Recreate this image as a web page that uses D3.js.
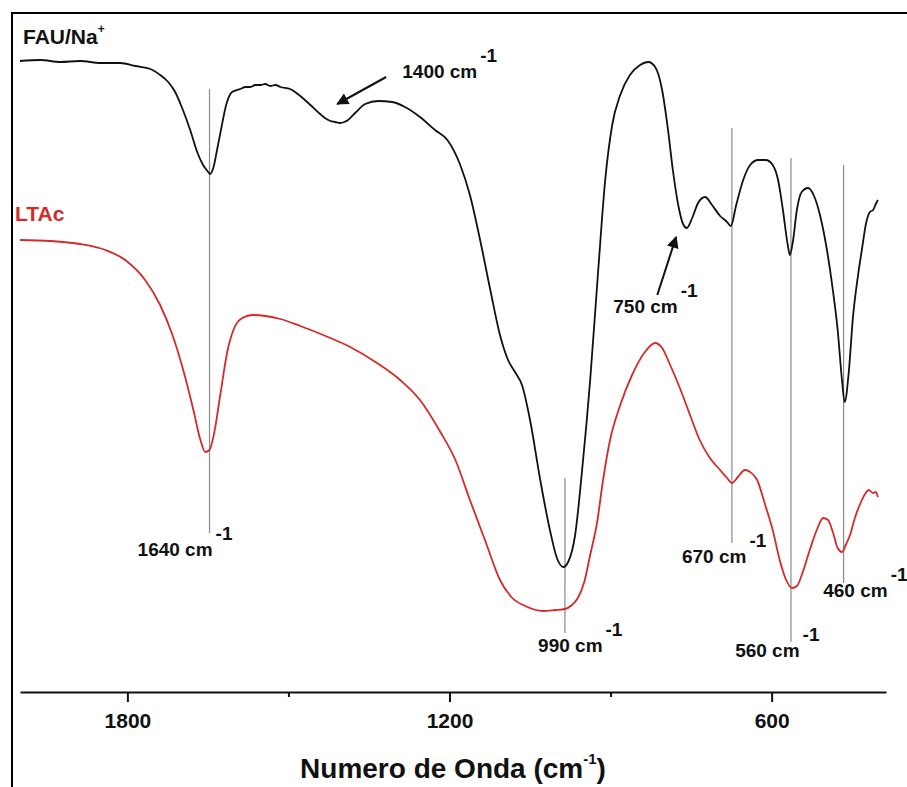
<!DOCTYPE html>
<html>
<head>
<meta charset="utf-8">
<script src="https://cdn.jsdelivr.net/npm/d3@7"></script>
<style>
  html, body { margin: 0; padding: 0; background: #fff; }
  svg { display: block; font-family: "Liberation Sans", Arial, sans-serif; }
</style>
</head>
<body>
<svg id="chart" width="907" height="787"></svg>
<script>
// ---------- DATA (wavenumber in cm^-1, transmittance in arbitrary units) ----------
const fauWave = [2000,1962,1925,1888,1850,1813,1785,1757,1739,1724,1711,1698,1683,1670,1659,1651,1646,1640,1633,1625,1616,1605,1590,1580,1571,1562,1552,1543,1534,1524,1515,1497,1478,1459,1441,1432,1422,1413,1404,1396,1389,1374,1357,1333,1307,1283,1255,1227,1204,1180,1162,1143,1124,1106,1091,1078,1065,1050,1031,1013,1000,988,979,966,953,938,923,910,897,882,864,845,830,817,804,793,784,774,765,758,748,737,724,711,696,683,676,666,653,640,625,611,598,588,579,570,566,560,553,544,532,521,510,497,486,477,469,464,456,449,439,432,424,417,411,406,402];
const fauVal  = [629,630,628,629,627,627,624,621,615,608,598,582,560,538,525,519,516,522,540,562,585,598,601,603,603,605,605,606,604,605,603,601,594,585,576,572,569,568,567,568,570,578,586,589,588,583,573,560,550,525,495,450,400,355,330,318,305,270,210,160,132,123,128,155,220,310,420,510,565,595,615,625,628,623,600,560,520,485,466,462,472,487,493,485,474,468,464,485,510,525,530,530,525,510,480,445,435,450,480,498,502,494,475,440,400,360,310,288,320,370,415,440,467,478,480,486,490];

const ltaWave = [2000,1943,1888,1841,1804,1767,1739,1716,1696,1677,1664,1655,1647,1638,1627,1614,1601,1586,1567,1543,1515,1478,1431,1385,1338,1292,1255,1217,1189,1162,1134,1106,1083,1059,1026,1003,985,972,961,949,938,925,914,901,882,860,836,817,804,789,771,752,734,715,696,683,674,663,650,640,627,612,598,585,573,562,553,542,529,516,504,495,486,477,469,462,454,445,436,426,419,411,406,402];
const ltaVal  = [450,449,446,440,430,410,385,355,320,280,250,238,240,258,295,338,362,372,375,374,371,364,354,343,328,310,290,258,230,190,150,110,92,84,79,80,81,85,92,108,135,168,210,250,285,315,338,347,342,325,302,275,250,232,220,212,207,213,220,218,210,185,160,130,110,102,104,118,140,160,172,170,158,142,138,145,155,172,185,196,200,197,198,193];

const seriesNames = ["FAU/Na", "LTAc"];

// x-axis ticks
const majorTicks = [1800, 1200, 600];
const minorTicks = [1500, 900];

// Band annotations: label value, wavenumber where the guide line is drawn, guide line extent,
// label anchor (wavenumber, value)
const bandLabel  = ["1640", "990", "670", "560", "460"];
const bandLineAt = [1647, 985, 674, 564, 466];
const bandTop    = [601, 212, 562, 532, 525];
const bandBottom = [157, 57, 147, 48, 107];
const bandTextW  = [1781, 1035, 767, 668, 504];
const bandTextV  = [134, 38, 127, 33, 93];

// Arrow annotations
const arrowLabel = ["1400", "750"];
const arrowFromW = [1318, 813];
const arrowFromV = [613, 395];
const arrowToW   = [1409, 778];
const arrowToV   = [586, 453];
const arrowTextW = [1288, 895];
const arrowTextV = [612, 377];

// ---------- CHART ----------
const svg = d3.select("#chart");
svg.append("rect").attr("width", 907).attr("height", 787).attr("fill", "#fff");
svg.append("path").attr("d", "M12,800 L12,13 L920,13")
   .attr("fill", "none").attr("stroke", "#000").attr("stroke-width", 2);

const x = d3.scaleLinear().domain([2000, 387]).range([20, 886]);
const y = d3.scaleLinear().domain([0, 650]).range([690, 40]);

const line = d3.line().x(d => x(d[0])).y(d => y(d[1])).curve(d3.curveMonotoneX);

// Guide lines
bandLabel.forEach((lab, i) => {
  svg.append("line")
    .attr("x1", x(bandLineAt[i])).attr("x2", x(bandLineAt[i]))
    .attr("y1", y(bandTop[i])).attr("y2", y(bandBottom[i]))
    .attr("stroke", "#8a8a8a").attr("stroke-width", 1.2);
});

// Curves
svg.append("path").datum(d3.zip(ltaWave, ltaVal)).attr("d", line)
  .attr("fill", "none").attr("stroke", "#d42a2a").attr("stroke-width", 1.8);
svg.append("path").datum(d3.zip(fauWave, fauVal)).attr("d", line)
  .attr("fill", "none").attr("stroke", "#111").attr("stroke-width", 1.8);

// Axis
const axisG = svg.append("g").attr("transform", "translate(0,692)");
axisG.call(d3.axisBottom(x).tickValues(majorTicks).tickFormat(d3.format("d"))
  .tickSize(10).tickSizeOuter(0).tickPadding(11));
axisG.select(".domain").attr("stroke", "#111").attr("stroke-width", 2.2);
axisG.selectAll(".tick line").attr("stroke", "#111").attr("stroke-width", 2);
axisG.selectAll(".tick text").attr("font-size", 21).attr("font-weight", "bold")
  .attr("fill", "#111").attr("font-family", "'Liberation Sans', Arial, sans-serif");
const minorG = svg.append("g").attr("transform", "translate(0,692)");
minorG.call(d3.axisBottom(x).tickValues(minorTicks).tickSize(5).tickSizeOuter(0).tickFormat(""));
minorG.select(".domain").remove();
minorG.selectAll(".tick line").attr("stroke", "#111").attr("stroke-width", 2);

// Axis title
const title = svg.append("text").attr("x", 453).attr("y", 778).attr("text-anchor", "middle")
  .attr("font-size", 28).attr("font-weight", "bold").attr("fill", "#111");
title.append("tspan").text("Numero de Onda (cm");
title.append("tspan").attr("font-size", 15).attr("dy", -14).text("-1");
title.append("tspan").attr("dy", 14).text(")");

// Series labels
const fauLab = svg.append("text").attr("x", 23).attr("y", 44)
  .attr("font-size", 21).attr("font-weight", "bold").attr("fill", "#111");
fauLab.append("tspan").text(seriesNames[0]);
fauLab.append("tspan").attr("font-size", 12).attr("dy", -11).text("+");
svg.append("text").attr("x", 15).attr("y", 221).attr("font-size", 21)
  .attr("font-weight", "bold").attr("fill", "#d42a2a").text(seriesNames[1]);

// Band labels
function cmLabel(xw, v, num) {
  const t = svg.append("text").attr("x", x(xw)).attr("y", y(v))
    .attr("font-size", 19).attr("font-weight", "bold").attr("fill", "#111");
  t.append("tspan").text(num + " cm");
  t.append("tspan").attr("dx", 3).attr("dy", -16).text("-1");
}
bandLabel.forEach((lab, i) => cmLabel(bandTextW[i], bandTextV[i], lab));

// Arrows
const defs = svg.append("defs");
defs.append("marker").attr("id", "ah").attr("viewBox", "0 0 10 10")
  .attr("refX", 9).attr("refY", 5)
  .attr("orient", "auto").attr("markerUnits", "userSpaceOnUse")
  .attr("markerWidth", 14).attr("markerHeight", 12)
  .append("path").attr("d", "M0,0 L10,5 L0,10 Z").attr("fill", "#111");
arrowLabel.forEach((lab, i) => {
  svg.append("line")
    .attr("x1", x(arrowFromW[i])).attr("y1", y(arrowFromV[i]))
    .attr("x2", x(arrowToW[i])).attr("y2", y(arrowToV[i]))
    .attr("stroke", "#111").attr("stroke-width", 2).attr("marker-end", "url(#ah)");
  cmLabel(arrowTextW[i], arrowTextV[i], lab);
});
</script>
</body>
</html>
